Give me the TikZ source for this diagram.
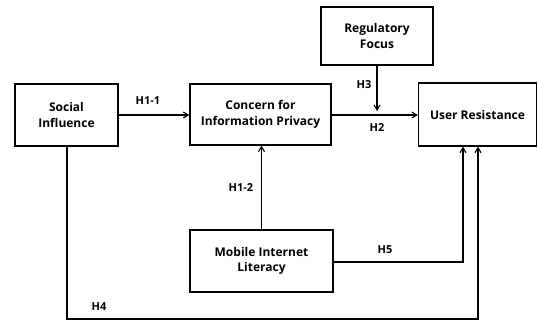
\documentclass[tikz,border=0pt]{standalone}
\usepackage{fontspec}
\setmainfont{Open Sans}
\usetikzlibrary{arrows.meta}
\begin{document}
\begin{tikzpicture}[x=1pt,y=-1pt,
  box/.style={draw,line width=1.3pt,inner sep=0pt,align=center,font=\fontsize{12}{15.5}\selectfont\bfseries},
  conn/.style={line width=1.1pt,-{Straight Barb[length=5pt,width=6pt,line width=1.1pt]}},
  plain/.style={line width=1.1pt},
  lab/.style={font=\fontsize{11}{13}\selectfont\bfseries,inner sep=0pt}]
\useasboundingbox (0,0) rectangle (538,321);
\node[box,minimum width=103pt,minimum height=62pt] (si) at (66.5,115) {Social\\Influence};
\node[box,minimum width=141pt,minimum height=61pt] (cip) at (260.5,114.5) {Concern for\\Information Privacy};
\node[box,minimum width=112pt,minimum height=58pt] (rf) at (377,36) {Regulatory\\Focus};
\node[box,minimum width=118pt,minimum height=63pt] (ur) at (477.5,114.5) {User Resistance};
\node[box,minimum width=143pt,minimum height=62pt] (mil) at (261.5,261) {Mobile Internet\\Literacy};
\draw[conn] (si.east|-0,115) -- (cip.west|-0,115);
\draw[conn] (cip.east|-0,115) -- (ur.west|-0,115);
\coordinate (h3end) at (377,111);
\draw[conn] (rf.south-|h3end) -- (h3end);
\draw[conn] (mil.north) -- (cip.south-|mil.north);
\coordinate (h5c) at (463,262);
\draw[conn] (mil.east|-h5c) -- (h5c) -- (ur.south-|h5c);
\coordinate (h4a) at (67,319);
\coordinate (h4b) at (478,319);
\draw[conn] (si.south-|h4a) -- (h4a) -- (h4b) -- (ur.south-|h4b);
\node[lab] at (148,101) {H1-1};
\node[lab] at (241,188) {H1-2};
\node[lab] at (364,85) {H3};
\node[lab] at (377,128) {H2};
\node[lab] at (385,250) {H5};
\node[lab] at (99,307) {H4};
\end{tikzpicture}
\end{document}
